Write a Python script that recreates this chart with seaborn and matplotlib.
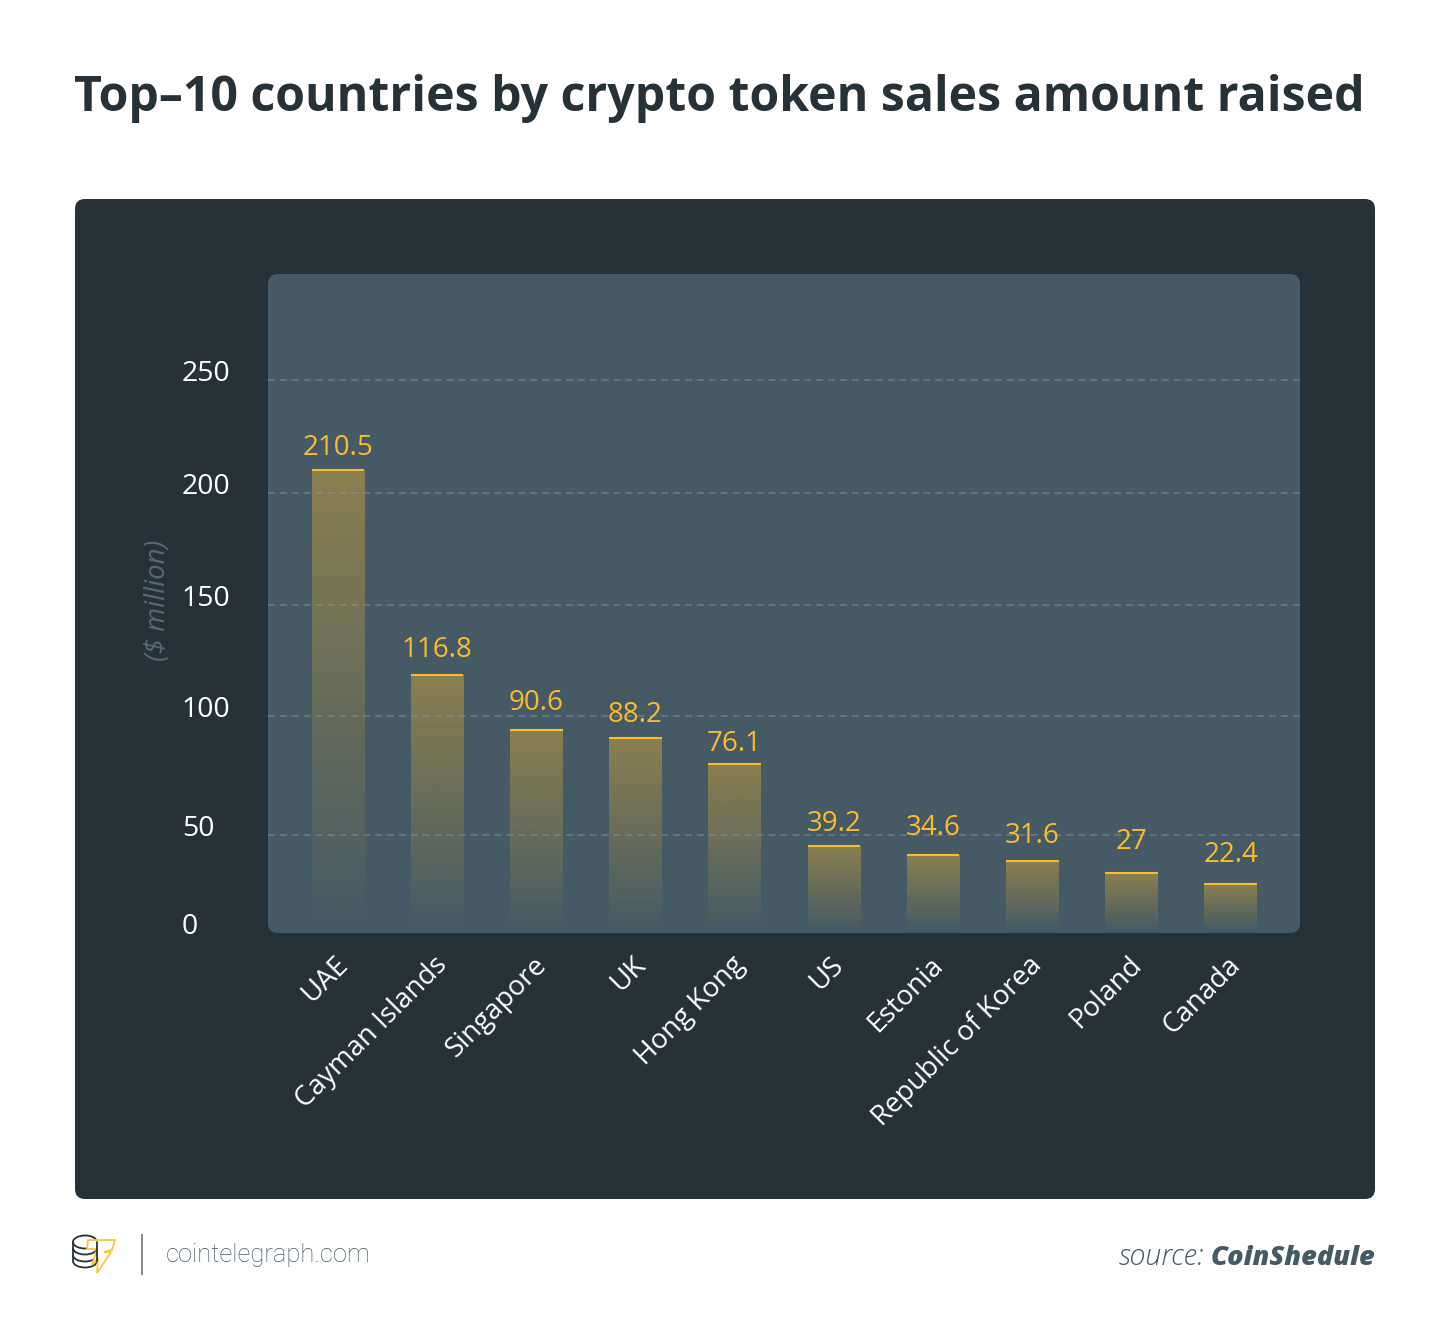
import matplotlib
matplotlib.use("Agg")
import matplotlib.pyplot as plt
import numpy as np
import pandas as pd
import seaborn as sns
from matplotlib.lines import Line2D
from matplotlib.patches import Arc, Ellipse, FancyBboxPatch, Polygon, Rectangle
from matplotlib.transforms import IdentityTransform, ScaledTranslation

# Values
countries = ["UAE", "Cayman Islands", "Singapore", "UK", "Hong Kong", "US", "Estonia",
             "Republic of Korea", "Poland", "Canada"]
bar_heights = [210.2, 117.3, 92.3, 88.4, 76.6, 39.5, 35.5, 32.7, 27.3, 22.3]
value_labels = ["210.5", "116.8", "90.6", "88.2", "76.1", "39.2", "34.6", "31.6", "27", "22.4"]
# the guide lines in the original are not evenly spaced
grid_positions = [0, 44.5, 98.6, 149.1, 200, 251.4]
grid_labels = ["0", "50", "100", "150", "200", "250"]

W, H = 1450, 1340
DARK = "#263238"
PANEL = "#465a65"
YELLOW = "#fbbc2c"
# value labels sit at slightly different gaps above the bars
label_pads = [6, 7.5, 9.5, 6.5, 4.5, 6, 9.5, 8, 12, 10.5]

sns.set_theme(style="white")
plt.rcParams["font.family"] = ["Open Sans", "DejaVu Sans"]

fig = plt.figure(figsize=(W / 100, H / 100), dpi=100, facecolor="white")
ax = fig.add_axes([268 / W, 1 - 933 / H, (1300 - 268) / W, (933 - 274) / H])
ax.set_facecolor("none")
ax.set_zorder(5)


def px(x, y):
    return x, H - y


def round_box(x0, y0, x1, y1, color, r):
    fig.add_artist(FancyBboxPatch(px(x0 + r, y1 - r), x1 - x0 - 2 * r, y1 - y0 - 2 * r,
                                  boxstyle=f"round,pad={r},rounding_size={r}", fc=color, ec="none",
                                  transform=IdentityTransform(), zorder=-2))


round_box(75, 199, 1375, 1199, DARK, 10)
round_box(268, 274, 1300, 933, PANEL, 10)

df = pd.DataFrame({"country": countries, "height": bar_heights})
sns.barplot(data=df, x="country", y="height", width=0.53, ax=ax, facecolor="none", linewidth=0, errorbar=None)

# gradient fill plus the yellow cap on each bar
rgba = np.ones((256, 1, 4))
rgba[:, :, :3] = matplotlib.colors.to_rgb(YELLOW)
rgba[:, 0, 3] = np.linspace(0.38, 0, 256)
for bar in ax.containers[0]:
    x0, w, top = bar.get_x(), bar.get_width(), bar.get_height()
    ax.imshow(rgba, extent=(x0, x0 + w, 1, top), aspect="auto", interpolation="bilinear", zorder=1)
    ax.hlines(top, x0, x0 + w, color=YELLOW, lw=1.5, zorder=3)

texts = ax.bar_label(ax.containers[0], labels=value_labels, color=YELLOW, fontsize=20, padding=6)
for txt, pad in zip(texts, label_pads):
    txt.xyann = (0, pad)

ax.set_xlim(-0.706, 9.70)
ax.set_ylim(0, 299.5)
ax.set_xlabel("")
ax.set_ylabel("($ million)", color="#566a75", fontsize=19.8, style="italic")
ax.yaxis.set_label_coords((172 - 268) / 1032, (933 - 600) / 659)
sns.despine(ax=ax, left=True, bottom=True)

ax.set_yticks(grid_positions)
ax.set_yticklabels(grid_labels)
ax.set_axisbelow(False)
ax.grid(axis="y", color="#8a9aa3", alpha=0.55, lw=1.1, ls=(0, (4.5, 3.3)))
ax.get_ygridlines()[0].set_visible(False)
ax.tick_params(axis="y", length=0, pad=62, labelcolor="white", labelsize=20.5)
up = ScaledTranslation(0, 9.5 / 100, fig.dpi_scale_trans)
for lab in ax.get_yticklabels():
    lab.set_ha("left")
    lab.set_transform(lab.get_transform() + up)

ax.tick_params(axis="x", length=0, pad=13, labelcolor="white", labelsize=20)
plt.setp(ax.get_xticklabels(), rotation=45, ha="right", va="top", rotation_mode="anchor")
left = ScaledTranslation(-4 / 100, 0, fig.dpi_scale_trans)
for lab in ax.get_xticklabels():
    lab.set_transform(lab.get_transform() + left)

fig.text(74 / W, 1 - 111 / H, "Top–10 countries by crypto token sales amount raised", color=DARK,
         fontsize=34.75, fontweight="bold", va="baseline", ha="left")

# footer
fig.text(166 / W, 1 - 1262 / H, "cointelegraph.com", family="Roboto", fontweight="light", color="#455a64",
         fontsize=18.4, va="baseline")
fig.text(1375 / W, 1 - 1265 / H, "CoinShedule", color="#455a64", fontsize=19.5, fontweight=800, style="italic",
         ha="right", va="baseline")
fig.text(1204 / W, 1 - 1265 / H, "source:", color="#455a64", fontsize=20.7, fontweight="light", style="italic",
         ha="right", va="baseline")
fig.add_artist(Rectangle(px(141, 1275), 2, 41, fc="#8a8a8a", ec="none", transform=IdentityTransform()))

# logo: stack of coins with a bolt
t = IdentityTransform()
fig.add_artist(Ellipse(px(85, 1242), 24, 13, fc="none", ec=DARK, lw=1.3, transform=t))
for cy in (1248, 1255, 1261):
    fig.add_artist(Arc(px(85, cy), 24, 13, theta1=180, theta2=360, ec=DARK, lw=1.3, transform=t))
for sx in (73, 97):
    fig.add_artist(Line2D([sx, sx], [H - 1242, H - 1261], color=DARK, lw=1.3, transform=t))
bolt = [(88, 1240), (115, 1240), (112, 1250), (104, 1252), (111, 1252), (97, 1273), (98, 1258), (92, 1265),
        (97, 1249), (87, 1249)]
fig.add_artist(Polygon([px(*p) for p in bolt], closed=True, fc="white", ec="#f9c73c", lw=1.3, transform=t))

fig.savefig("out.png", dpi=100)
